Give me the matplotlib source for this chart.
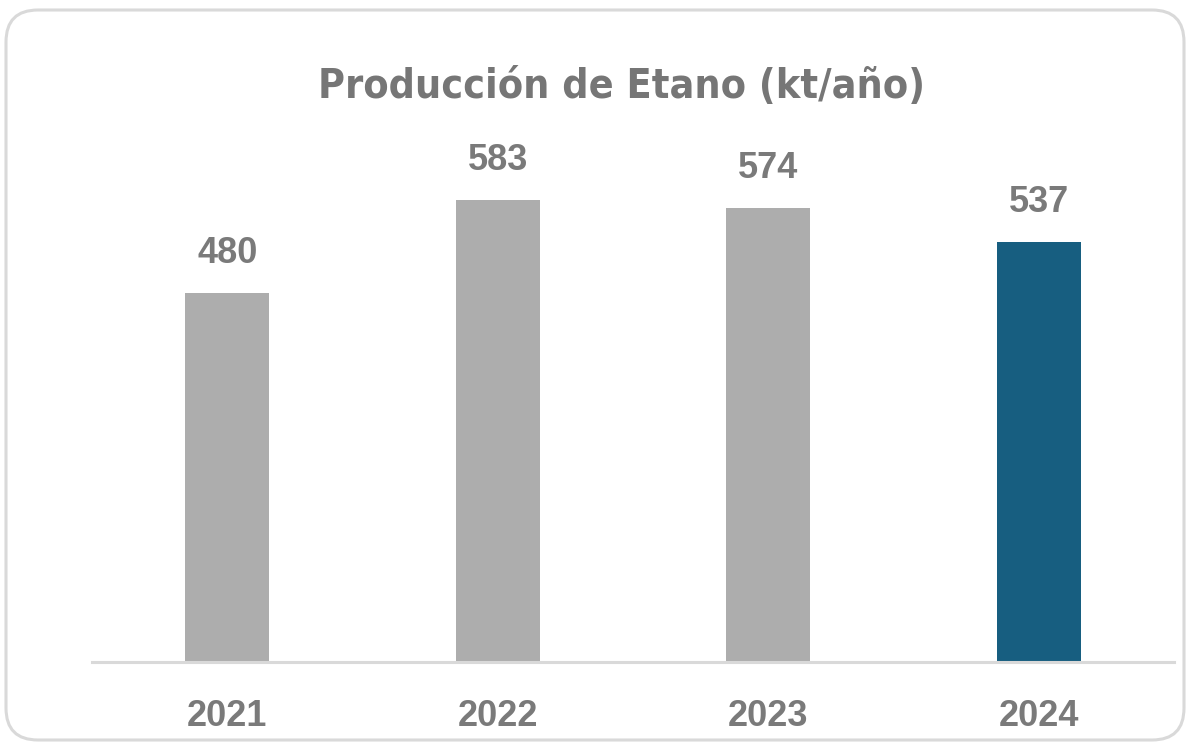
import matplotlib.pyplot as plt
from matplotlib.patches import FancyBboxPatch

years = ["2021", "2022", "2023", "2024"]
values = [480, 583, 574, 537]
bar_colors = ["#adadad", "#adadad", "#adadad", "#175e80"]
title = "Producción de Etano (kt/año)"

text_gray = "#7a7a7a"

fig = plt.figure(figsize=(11.88, 7.43), dpi=100)

# rounded frame around the whole chart, drawn in pixel units
bg = fig.add_axes([0, 0, 1, 1], zorder=-1)
bg.set_xlim(0, 1188)
bg.set_ylim(743, 0)
bg.axis("off")
bg.add_patch(FancyBboxPatch((6, 10), 1178, 730,
                            boxstyle="round,pad=0,rounding_size=32",
                            fc="white", ec="#d9d9d9", lw=2.2))

ax = fig.add_axes([92 / 1188, 81 / 743, 1082 / 1188, 512 / 743])
ax.patch.set_alpha(0)

x = range(len(years))
bars = ax.bar(x, values, width=0.31, color=bar_colors, zorder=2)

# value axis does not start at zero in the original
ymin = 71.4
ax.set_ylim(ymin, ymin + 512 / 0.903)
ax.set_xlim(-0.5, 3.5)

for b, v in zip(bars, values):
    ax.annotate(str(v), (b.get_x() + b.get_width() / 2, v),
                xytext=(0, 21.5), textcoords="offset points",
                ha="center", va="baseline", fontsize=26,
                fontweight="bold", color=text_gray,
                family=["Liberation Sans", "DejaVu Sans"])

ax.set_xticks(list(x))
ax.set_xticklabels(years, fontsize=26, fontweight="bold", color=text_gray,
                   family=["Liberation Sans", "DejaVu Sans"])
ax.tick_params(axis="x", length=0, pad=27)
ax.set_yticks([])
for s in ["top", "right", "left"]:
    ax.spines[s].set_visible(False)
ax.spines["bottom"].set_color("#d9d9d9")
ax.spines["bottom"].set_linewidth(2.2)

fig.text(622 / 1188, 1 - 87 / 743, title, ha="center", va="center",
         fontsize=29.5, fontweight="bold", fontstretch="condensed",
         color="#767676", family=["DejaVu Sans"])

fig.savefig("out.png", dpi=100)
